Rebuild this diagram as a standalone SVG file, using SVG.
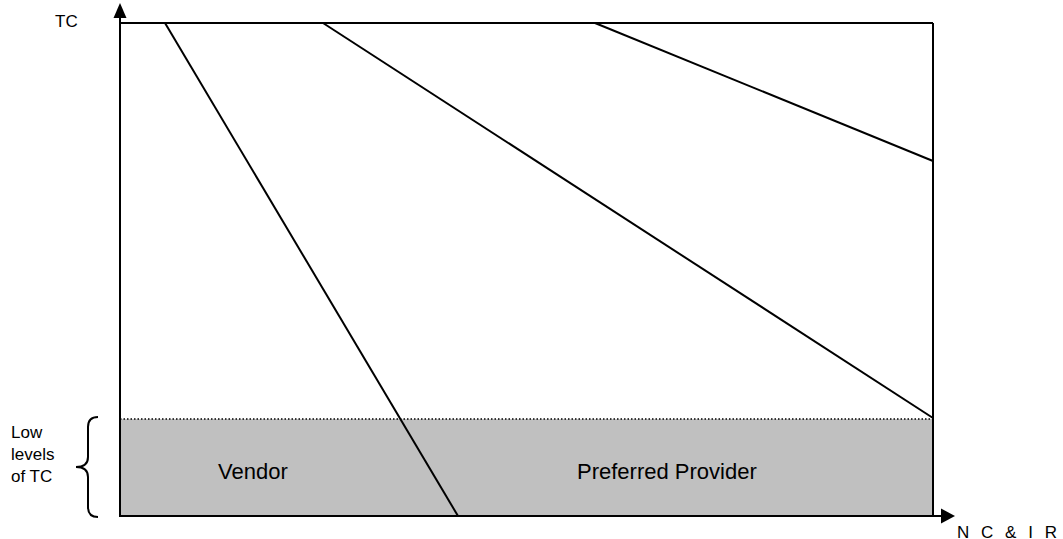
<svg xmlns="http://www.w3.org/2000/svg" width="1063" height="539" viewBox="0 0 1063 539">
<style>
.ln{stroke:#000;stroke-width:2;fill:none}
.t{font-family:"Liberation Sans",Arial,sans-serif;fill:#000}
</style>
<rect width="1063" height="539" fill="#fff"/>
<g id="low-region">
<rect x="120" y="419" width="813" height="97" fill="#c0c0c0"/>
<line x1="120" y1="419" x2="933" y2="419" stroke="#000" stroke-width="1.5" stroke-dasharray="1.5,2"/>
</g>
<g id="frame">
<line class="ln" x1="120" y1="23" x2="933" y2="23"/>
<line class="ln" x1="933" y1="23" x2="933" y2="516"/>
</g>
<g id="axes">
<line class="ln" x1="120" y1="517" x2="120" y2="16"/>
<line class="ln" x1="119" y1="516" x2="943" y2="516"/>
<polygon points="120,3 113.5,18 126.5,18" fill="#000"/>
<polygon points="955,516 941,508.5 941,523.5" fill="#000"/>
</g>
<g id="connectors">
<line class="ln" x1="165" y1="23" x2="458" y2="516"/>
<line class="ln" x1="323" y1="23" x2="933" y2="418"/>
<line class="ln" x1="595" y1="23" x2="933" y2="161"/>
</g>
<g id="brace">
<path class="ln" stroke-width="1.5" d="M98,417 Q88,417 88,427 L88,457 Q88,467 76,467 Q88,467 88,477 L88,507 Q88,517 98,517"/>
</g>
<g id="labels">
<text class="t" x="55" y="27" font-size="17">TC</text>
<text class="t" x="11" y="438" font-size="17">Low</text>
<text class="t" x="11" y="460" font-size="17">levels</text>
<text class="t" x="11" y="482" font-size="17">of TC</text>
<text class="t" x="218" y="479" font-size="22">Vendor</text>
<text class="t" x="577" y="479" font-size="22">Preferred Provider</text>
<text class="t" x="957" y="538" font-size="17" textLength="100" lengthAdjust="spacing">N C &amp; I R</text>
</g>
</svg>
